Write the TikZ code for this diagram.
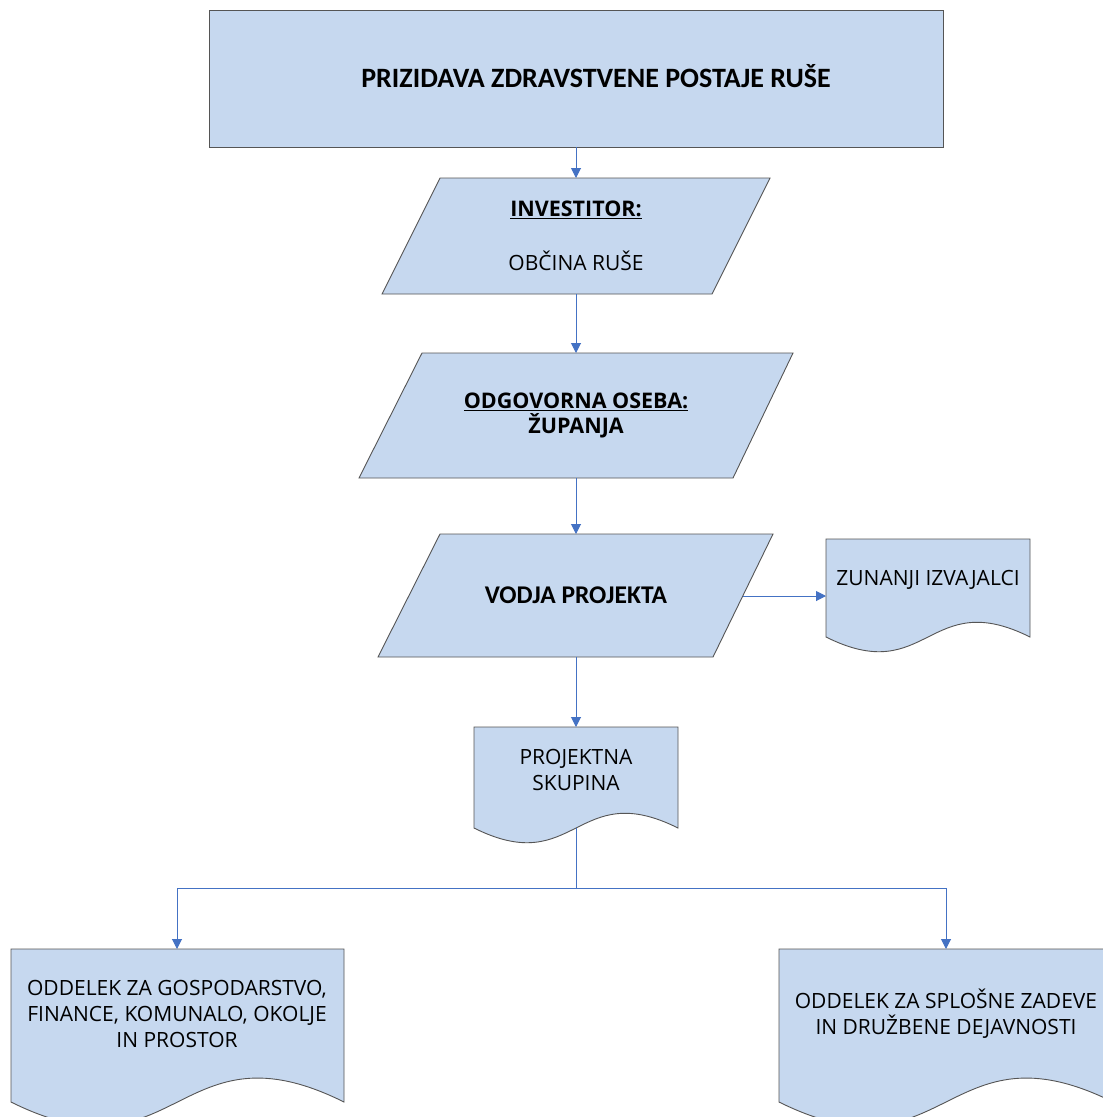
\documentclass[tikz,border=0pt]{standalone}
\usepackage{fontspec}
\setmainfont{Open Sans}
\newfontfamily\carlito{Carlito}
\usetikzlibrary{arrows.meta}
\definecolor{boxfill}{RGB}{198,216,239}
\definecolor{boxline}{RGB}{85,85,85}
\definecolor{connblue}{RGB}{68,114,196}
\begin{document}
\begin{tikzpicture}[x=1pt,y=-1pt,
  shapebox/.style={fill=boxfill,draw=boxline,line width=0.9pt},
  conn/.style={draw=connblue,line width=1pt,-{Triangle[length=10pt,width=10pt]}},
  plainconn/.style={draw=connblue,line width=1pt},
  lbl/.style={font=\fontsize{21}{26}\selectfont,align=center,inner sep=0pt,text=black},
  blbl/.style={font=\fontsize{21.5}{25}\selectfont\bfseries,align=center,inner sep=0pt,text=black},
  clbl/.style={font=\carlito\fontsize{28}{32}\selectfont\bfseries,align=center,inner sep=0pt,text=black}
  ]
\useasboundingbox (0,0) rectangle (1103,1117);
\fill[white] (0,0) rectangle (1103,1117);

% top box
\draw[shapebox] (209,10) rectangle (943,147);
\node[clbl] (title) at (596,76) {PRIZIDAVA ZDRAVSTVENE POSTAJE RUŠE};
\coordinate (topb) at (576,147);

% investitor
\draw[shapebox] (440,178) -- (770,178) -- (712,294) -- (382,294) -- cycle;
\coordinate (invt) at (576,178);
\coordinate (invb) at (576,294);
\node[blbl] (inv) at (576,210) {\underline{INVESTITOR:}};
\node[lbl] (obcina) at (576,261) {OBČINA RUŠE};

% odgovorna oseba
\draw[shapebox] (422,353) -- (793,353) -- (733,478) -- (359,478) -- cycle;
\coordinate (odgt) at (576,353);
\coordinate (odgb) at (576,478);
\node[blbl] (odg) at (576,415) {\underline{ODGOVORNA OSEBA:}\\ŽUPANJA};

% vodja projekta
\draw[shapebox] (440,534) -- (773,534) -- (713,657) -- (378,657) -- cycle;
\coordinate (vodt) at (576,534);
\coordinate (vodb) at (576,657);
\coordinate (vodr) at (743,596);
\node[clbl,font=\carlito\fontsize{25.5}{30}\selectfont\bfseries] (vod) at (576,595) {VODJA PROJEKTA};

% zunanji izvajalci
\draw[shapebox] (826,539) -- (1030,539) -- (1030,637) .. controls (928,586) and (928,688) .. (826,637) -- cycle;
\coordinate (zunl) at (826,596);
\node[lbl] (zun) at (928,580) {ZUNANJI IZVAJALCI};

% projektna skupina
\draw[shapebox] (474,727) -- (678,727) -- (678,828) .. controls (576,777) and (576,879) .. (474,828) -- cycle;
\coordinate (skut) at (576,727);
\coordinate (skub) at (576,828);
\node[lbl] (sku) at (576,770) {PROJEKTNA\\SKUPINA};

% bottom left
\draw[shapebox] (11,949) -- (344,949) -- (344,1102) .. controls (177.5,1019) and (177.5,1185) .. (11,1102) -- cycle;
\coordinate (blt) at (177,949);
\node[lbl] (bl) at (177,1014) {ODDELEK ZA GOSPODARSTVO,\\FINANCE, KOMUNALO, OKOLJE\\IN PROSTOR};

% bottom right
\draw[shapebox] (779,949) -- (1113,949) -- (1113,1102) .. controls (946,1019) and (946,1185) .. (779,1102) -- cycle;
\coordinate (brt) at (946,949);
\node[lbl] (br) at (946,1014) {ODDELEK ZA SPLOŠNE ZADEVE\\IN DRUŽBENE DEJAVNOSTI};

% connectors
\draw[conn] (topb) -- (invt);
\draw[conn] (invb) -- (odgt);
\draw[conn] (odgb) -- (vodt);
\draw[conn] (vodr) -- (zunl);
\draw[conn] (vodb) -- (skut);
\coordinate (split) at (576,888);
\draw[plainconn] (skub) -- (split);
\draw[conn] (split) -| (blt);
\draw[conn] (split) -| (brt);
\end{tikzpicture}
\end{document}
